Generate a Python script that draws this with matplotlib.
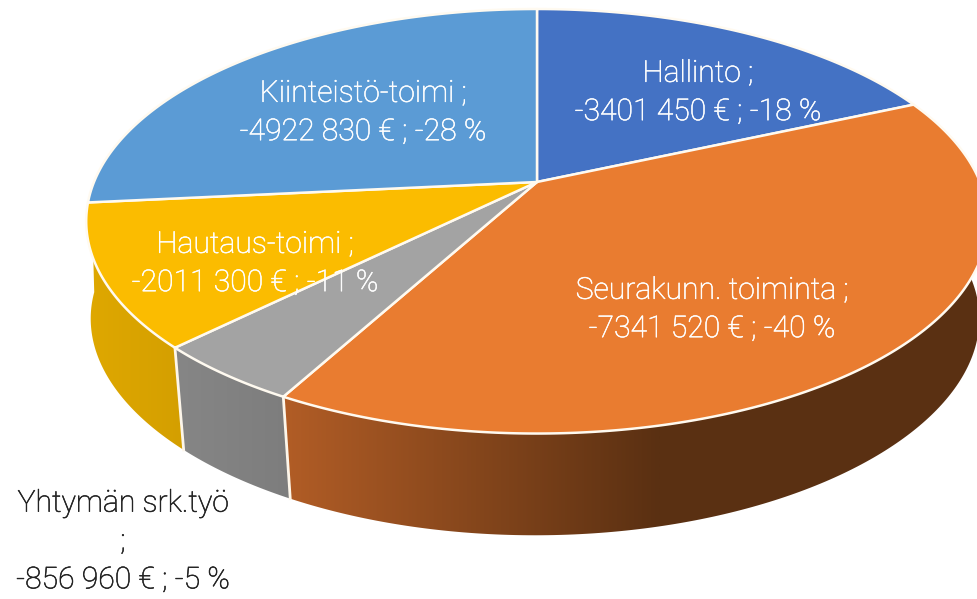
import numpy as np
import matplotlib
matplotlib.use('Agg')
import matplotlib.pyplot as plt
import matplotlib.patheffects as pe
from matplotlib.colors import LinearSegmentedColormap
from matplotlib.patches import Polygon

# clockwise from 12 o'clock
names = ['Hallinto', 'Seurakunn. toiminta', 'Yhtymän srk.työ', 'Hautaus-toimi', 'Kiinteistö-toimi']
values = [3401450, 7341520, 856960, 2011300, 4922830]
labels = ['Hallinto ;\n-3401 450 € ; -18 %',
          'Seurakunn. toiminta ;\n-7341 520 € ; -40 %',
          'Yhtymän srk.työ\n;\n-856 960 € ; -5 %',
          'Hautaus-toimi ;\n-2011 300 € ; -11 %',
          'Kiinteistö-toimi ;\n-4922 830 € ; -28 %']
top_colors = ['#4472c4', '#e97c30', '#a3a3a3', '#fbbc00', '#5b9bd5']
side_colors = [('#2f5597', '#2f5597'), ('#b25d26', '#5a3012'), ('#868686', '#7d7d7d'),
               ('#dfa800', '#d49f00'), ('#3f6f9c', '#3f6f9c')]
label_pos = [(698, 93), (712, 310), (123, 542), (255, 264), (363, 113)]
label_colors = ['white', 'white', '#222222', 'white', 'white']

# pie geometry in pixels, the pie is seen in perspective
CX, CY = 537, 182
RX, RY, K = 443, 205, 0.185
# lower rim is a little narrower and its perspective flatter
LOW_K, LOW_FX, LOW_FY, LOW_DX, DEPTH = 0.16, 0.99, 0.995, -2, 103

plt.rcParams['font.family'] = ['Roboto', 'DejaVu Sans']

fig = plt.figure(figsize=(9.77, 5.99), dpi=100)
ax = fig.add_axes([0, 0, 1, 1])
ax.set_xlim(0, 977)
ax.set_ylim(599, 0)
ax.axis('off')


def rim(t, lower=False):
    w = 1 + K * np.cos(t)
    x = RX * np.sin(t) / w
    y = -RY * np.cos(t) / w
    if lower:
        x2 = RX * np.sin(t) / (1 + LOW_K * np.cos(t))
        return CX + LOW_DX + LOW_FX * x2, CY + LOW_FY * y + DEPTH
    return CX + x, CY + y


shares = np.array(values) / sum(values)
edges = np.concatenate([[0], np.cumsum(shares)]) * 2 * np.pi

# side walls first, the top face hides what should not show
for i in [1, 3, 2]:
    t = np.linspace(edges[i], edges[i + 1], 200)
    if i == 3:
        # gold wall runs on to the left silhouette of the pie
        t = np.linspace(edges[i], np.radians(268), 200)
    xt, yt = rim(t)
    xb, yb = rim(t, lower=True)
    pts = np.column_stack([np.r_[xt, xb[::-1]], np.r_[yt, yb[::-1]]])
    poly = Polygon(pts, closed=True, fc='none', ec='none', zorder=1)
    ax.add_patch(poly)
    x0, x1 = pts[:, 0].min(), pts[:, 0].max()
    if i == 1:
        x1 = 660
    cmap = LinearSegmentedColormap.from_list('side', side_colors[i])
    im = ax.imshow(np.linspace(0, 1, 256)[None, :], cmap=cmap, extent=[x0, x1, 560, 180],
                   aspect='auto', zorder=1)
    if i == 1:
        # flat dark part right of the gradient
        im2 = ax.imshow([[1]], cmap=cmap, vmin=0, vmax=1, extent=[x1, 990, 560, 180],
                        aspect='auto', zorder=1)
        im2.set_clip_path(poly)
    im.set_clip_path(poly)
    # light seams between the visible walls
    if i == 2:
        ax.plot([xt[0], xb[0]], [yt[0], yb[0]], color='#fdf6ea', lw=2, zorder=2)
        ax.plot([xt[-1], xb[-1]], [yt[-1], yb[-1]], color='#fdf6ea', lw=2, zorder=2)
ax.set_xlim(0, 977)
ax.set_ylim(599, 0)

# top face
for i in range(len(values)):
    t = np.linspace(edges[i], edges[i + 1], 300)
    x, y = rim(t)
    pts = np.column_stack([np.r_[CX, x], np.r_[CY, y]])
    ax.add_patch(Polygon(pts, closed=True, fc=top_colors[i], ec='#fffaf0', lw=1.8,
                         joinstyle='round', zorder=3))

for lab, (x, y), c in zip(labels, label_pos, label_colors):
    ax.text(x, y, lab, color=c, ha='center', va='center', fontsize=21.7, fontweight='light',
            linespacing=1.47, zorder=4,
            path_effects=[pe.withStroke(linewidth=0.4, foreground=c)])

fig.savefig('out.png', dpi=100)
